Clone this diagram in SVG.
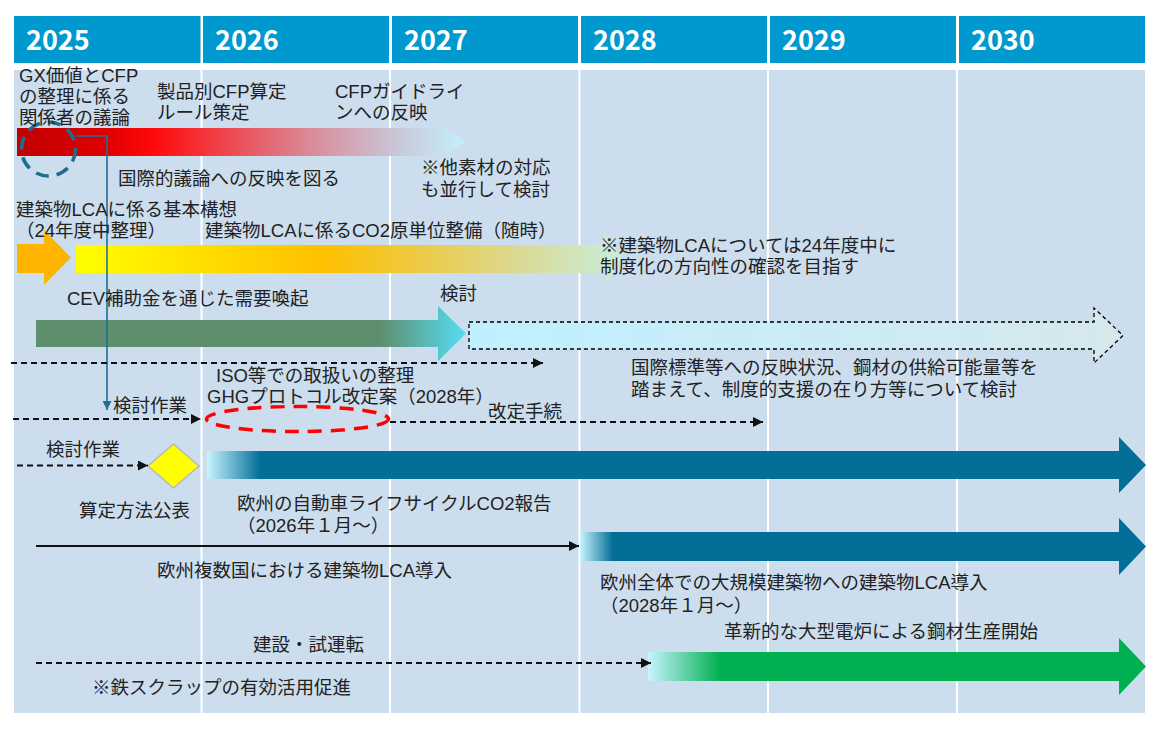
<svg xmlns="http://www.w3.org/2000/svg" width="1164" height="732" viewBox="0 0 1164 732">
<style>
.t{font-family:"Liberation Sans","Noto Sans CJK JP",sans-serif;font-size:18.5px;fill:#222}
.yr{font-family:"Noto Sans CJK JP","Noto Sans",sans-serif;font-size:27px;font-weight:bold;fill:#fff}
.hd{fill:#0099CF}
.sep{stroke:#fff;stroke-width:2}
.dash{fill:none;stroke:#111;stroke-width:2;stroke-dasharray:6 4}
.solid{fill:none;stroke:#111;stroke-width:2}
</style>
<defs>
<marker id="ah" viewBox="0 0 10 10" refX="10" refY="5" markerWidth="11" markerHeight="10" markerUnits="userSpaceOnUse" orient="auto"><path d="M0,0 L10,5 L0,10 z" fill="#111"/></marker>
<marker id="ahT" viewBox="0 0 10 10" refX="10" refY="5" markerWidth="9" markerHeight="9" markerUnits="userSpaceOnUse" orient="auto"><path d="M0,0 L10,5 L0,10 z" fill="#1E7096"/></marker>
<linearGradient id="gRed" gradientUnits="userSpaceOnUse" x1="17" y1="0" x2="466" y2="0">
<stop offset="0" stop-color="#C00000"/><stop offset="0.2" stop-color="#E00000"/><stop offset="0.3" stop-color="#FF0808"/><stop offset="0.45" stop-color="#F04048"/><stop offset="0.65" stop-color="#DA8A98"/><stop offset="0.85" stop-color="#C8C8D8"/><stop offset="1" stop-color="#C4F0FC"/>
</linearGradient>
<linearGradient id="gYel" gradientUnits="userSpaceOnUse" x1="76" y1="0" x2="622" y2="0">
<stop offset="0" stop-color="#FFFF00"/><stop offset="0.45" stop-color="#FFC000"/><stop offset="0.6" stop-color="#F0C838"/><stop offset="0.8" stop-color="#DCD890"/><stop offset="1" stop-color="#C8EEDC"/>
</linearGradient>
<linearGradient id="gGG" gradientUnits="userSpaceOnUse" x1="36" y1="0" x2="466" y2="0">
<stop offset="0" stop-color="#5E8E6E"/><stop offset="0.8" stop-color="#5E8E6E"/><stop offset="1" stop-color="#55DDF5"/>
</linearGradient>
<linearGradient id="gCy" gradientUnits="userSpaceOnUse" x1="469" y1="0" x2="1123" y2="0">
<stop offset="0" stop-color="#BFF0FF"/><stop offset="1" stop-color="#D6E8EC"/>
</linearGradient>
<linearGradient id="gT1" gradientUnits="userSpaceOnUse" x1="207" y1="0" x2="1146" y2="0">
<stop offset="0" stop-color="#C8F4FF"/><stop offset="0.057" stop-color="#036F96"/><stop offset="1" stop-color="#036F96"/>
</linearGradient>
<linearGradient id="gT2" gradientUnits="userSpaceOnUse" x1="580" y1="0" x2="1146" y2="0">
<stop offset="0" stop-color="#C8F4FF"/><stop offset="0.058" stop-color="#036F96"/><stop offset="1" stop-color="#036F96"/>
</linearGradient>
<linearGradient id="gGr" gradientUnits="userSpaceOnUse" x1="648" y1="0" x2="1146" y2="0">
<stop offset="0" stop-color="#C8F4FF"/><stop offset="0.145" stop-color="#00B050"/><stop offset="1" stop-color="#00B050"/>
</linearGradient>
</defs>
<rect width="1164" height="732" fill="#fff"/>
<g id="header">
<rect class="hd" x="14" y="16" width="186.5" height="47"/>
<rect class="hd" x="203" y="16" width="186" height="47"/>
<rect class="hd" x="392" y="16" width="186" height="47"/>
<rect class="hd" x="581" y="16" width="186" height="47"/>
<rect class="hd" x="770" y="16" width="186" height="47"/>
<rect class="hd" x="959" y="16" width="186" height="47"/>
<text class="yr" x="26" y="50">2025</text>
<text class="yr" x="215" y="50">2026</text>
<text class="yr" x="404" y="50">2027</text>
<text class="yr" x="593" y="50">2028</text>
<text class="yr" x="782" y="50">2029</text>
<text class="yr" x="971" y="50">2030</text>
</g>
<g id="body">
<rect x="14" y="70" width="1131" height="643" fill="#CCDDEE"/>
<line class="sep" x1="201.5" y1="70" x2="201.5" y2="713"/>
<line class="sep" x1="390" y1="70" x2="390" y2="713"/>
<line class="sep" x1="579.5" y1="70" x2="579.5" y2="713"/>
<line class="sep" x1="768" y1="70" x2="768" y2="713"/>
<line class="sep" x1="957" y1="70" x2="957" y2="713"/>
</g>
<g id="bars">
<polygon id="cfp-bar" points="17,128 438,128 438,123 466,142 438,161 438,156 17,156" fill="url(#gRed)"/>
<polygon id="lca-basic" points="17,244 44,244 44,230 71,257.5 44,285 44,273 17,273" fill="#FFB400"/>
<polygon id="lca-unit" points="76,245 605,245 605,232 622,258.5 605,285 605,273 76,273" fill="url(#gYel)"/>
<polygon id="cev-bar" points="36,320 438,320 438,306 466,333.5 438,361 438,347 36,347" fill="url(#gGG)"/>
<polygon id="kento-bar" points="469,322 1094,322 1094,308 1123,335.5 1094,363 1094,349 469,349" fill="url(#gCy)" stroke="#000" stroke-width="1.3" stroke-dasharray="4 3"/>
<polygon id="eu-car" points="207,451 1119,451 1119,437 1146,465 1119,493 1119,479 207,479" fill="url(#gT1)"/>
<polygon id="eu-lca" points="580,532 1119,532 1119,518 1146,546.5 1119,575 1119,561 580,561" fill="url(#gT2)"/>
<polygon id="eaf-bar" points="648,652 1119,652 1119,638 1146,666.5 1119,695 1119,681 648,681" fill="url(#gGr)"/>
</g>
<g id="nodes">
<circle id="gx-circle" cx="48.5" cy="149" r="27" fill="none" stroke="#1D6E8E" stroke-width="3.5" stroke-dasharray="13 8"/>
<ellipse id="ghg-ellipse" cx="297.5" cy="419" rx="91" ry="12.5" fill="none" stroke="#FF0000" stroke-width="3.5" stroke-dasharray="14 9"/>
<polygon id="calc-diamond" points="173.5,444 199,466 173.5,488 148,466" fill="#FFFF00" stroke="#B8B8B8" stroke-width="1.5"/>
</g>
<g id="connectors">
<path d="M76,136 H107 V410" fill="none" stroke="#1E7096" stroke-width="1.6" marker-end="url(#ahT)"/>
<line class="dash" x1="11" y1="363" x2="543" y2="363" marker-end="url(#ah)"/>
<line class="dash" x1="13" y1="419" x2="201" y2="419" marker-end="url(#ah)"/>
<line class="dash" x1="390" y1="422" x2="763" y2="422" marker-end="url(#ah)"/>
<line class="dash" x1="17" y1="465.5" x2="148" y2="465.5" marker-end="url(#ah)"/>
<line class="solid" x1="36" y1="546" x2="579" y2="546" marker-end="url(#ah)"/>
<line class="dash" x1="36" y1="663" x2="651" y2="663" marker-end="url(#ah)"/>
</g>
<g id="labels">
<text class="t" x="19" y="82">GX価値とCFP</text>
<text class="t" x="19" y="103">の整理に係る</text>
<text class="t" x="19" y="124">関係者の議論</text>
<text class="t" x="157" y="98">製品別CFP算定</text>
<text class="t" x="157" y="119">ルール策定</text>
<text class="t" x="335" y="98">CFPガイドライ</text>
<text class="t" x="335" y="119">ンへの反映</text>
<text class="t" x="118" y="185">国際的議論への反映を図る</text>
<text class="t" x="421" y="174">※他素材の対応</text>
<text class="t" x="421" y="196">も並行して検討</text>
<text class="t" x="16" y="216">建築物LCAに係る基本構想</text>
<text class="t" x="16" y="237">（24年度中整理）</text>
<text class="t" x="205" y="237">建築物LCAに係るCO2原単位整備（随時）</text>
<text class="t" x="600" y="252">※建築物LCAについては24年度中に</text>
<text class="t" x="600" y="273">制度化の方向性の確認を目指す</text>
<text class="t" x="67" y="305">CEV補助金を通じた需要喚起</text>
<text class="t" x="440" y="300">検討</text>
<text class="t" x="631" y="374">国際標準等への反映状況、鋼材の供給可能量等を</text>
<text class="t" x="631" y="396">踏まえて、制度的支援の在り方等について検討</text>
<text class="t" x="216" y="382">ISO等での取扱いの整理</text>
<text class="t" x="207" y="403">GHGプロトコル改定案（2028年）</text>
<text class="t" x="113" y="412">検討作業</text>
<text class="t" x="488" y="418">改定手続</text>
<text class="t" x="46" y="456">検討作業</text>
<text class="t" x="79" y="517">算定方法公表</text>
<text class="t" x="237" y="510">欧州の自動車ライフサイクルCO2報告</text>
<text class="t" x="237" y="532">（2026年１月～）</text>
<text class="t" x="157" y="577">欧州複数国における建築物LCA導入</text>
<text class="t" x="600" y="589">欧州全体での大規模建築物への建築物LCA導入</text>
<text class="t" x="600" y="612">（2028年１月～）</text>
<text class="t" x="724" y="638">革新的な大型電炉による鋼材生産開始</text>
<text class="t" x="253" y="651">建設・試運転</text>
<text class="t" x="92" y="694">※鉄スクラップの有効活用促進</text>
</g>
</svg>
